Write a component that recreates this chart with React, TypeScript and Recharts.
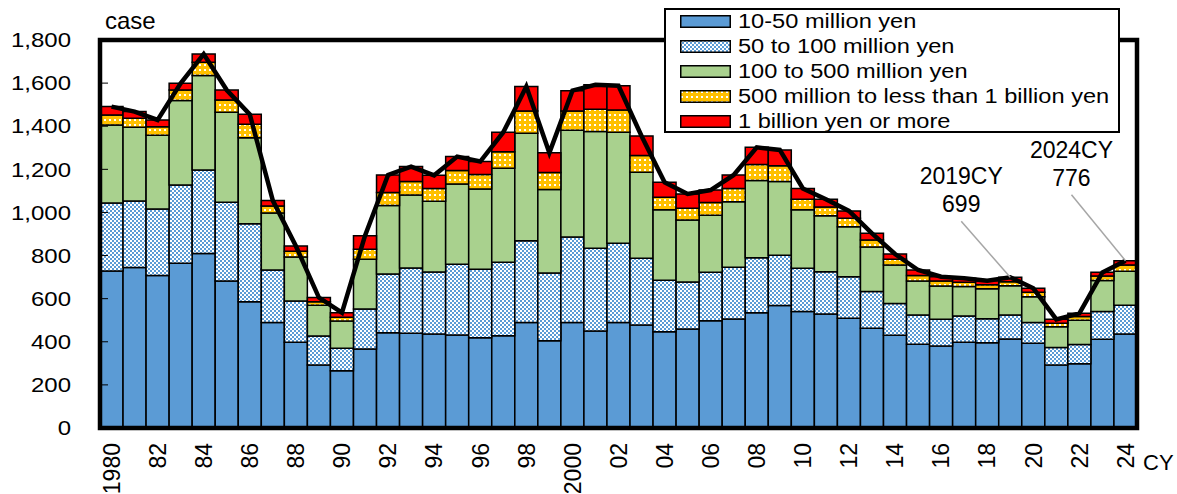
import {
  ComposedChart,
  Bar,
  Line,
  XAxis,
  YAxis,
  Legend,
  LabelList,
} from 'recharts';

const FONT = "'Liberation Sans', Arial, sans-serif";

const years = [
  1980, 1981, 1982, 1983, 1984, 1985, 1986, 1987, 1988, 1989,
  1990, 1991, 1992, 1993, 1994, 1995, 1996, 1997, 1998, 1999,
  2000, 2001, 2002, 2003, 2004, 2005, 2006, 2007, 2008, 2009,
  2010, 2011, 2012, 2013, 2014, 2015, 2016, 2017, 2018, 2019,
  2020, 2021, 2022, 2023, 2024,
];

const yearLabels = [
  '1980', '81', '82', '83', '84', '85', '86', '87', '88', '89',
  '90', '91', '92', '93', '94', '95', '96', '97', '98', '99',
  '2000', '01', '02', '03', '04', '05', '06', '07', '08', '09',
  '10', '11', '12', '13', '14', '15', '16', '17', '18', '19',
  '20', '21', '22', '23', '24',
];

// cases by capital size
const tier10to50m = [
  728, 745, 708, 764, 810, 682, 586, 490, 398, 292,
  266, 367, 442, 439, 436, 432, 419, 428, 489, 405,
  490, 450, 490, 478, 447, 459, 498, 506, 535, 568,
  540, 529, 509, 463, 430, 388, 380, 398, 396, 413,
  393, 292, 298, 412, 436,
];
const tier50to100m = [
  316, 308, 308, 363, 387, 365, 361, 243, 191, 135,
  104, 185, 273, 303, 288, 328, 317, 341, 380, 314,
  396, 384, 367, 309, 238, 218, 224, 240, 255, 233,
  201, 196, 193, 170, 148, 136, 124, 122, 111, 111,
  97, 81, 89, 128, 133,
];
const tier100to500m = [
  362, 342, 342, 392, 438, 418, 400, 265, 204, 142,
  126, 231, 317, 339, 328, 372, 373, 436, 498, 388,
  495, 541, 515, 399, 327, 288, 265, 304, 358, 342,
  271, 260, 232, 207, 178, 158, 155, 136, 139, 136,
  119, 97, 113, 144, 158,
];
const tier500mTo1b = [
  46, 42, 40, 49, 62, 57, 62, 32, 27, 17,
  18, 46, 61, 62, 59, 63, 67, 77, 104, 78,
  90, 104, 103, 78, 58, 54, 59, 61, 75, 74,
  49, 40, 39, 32, 27, 25, 23, 20, 19, 19,
  21, 16, 17, 21, 29,
];
const tierOver1b = [
  39, 31, 31, 31, 38, 46, 46, 25, 24, 19,
  21, 63, 81, 70, 61, 64, 60, 90, 113, 92,
  94, 113, 113, 91, 70, 67, 58, 63, 79, 73,
  50, 36, 34, 31, 24, 26, 20, 19, 18, 20,
  18, 18, 15, 17, 20,
];

const yTicks = [0, 200, 400, 600, 800, 1000, 1200, 1400, 1600, 1800];
const Y_MAX = 1800;
const notedYears = [2019, 2024];

const series = [
  { key: 't1', name: '10-50 million yen', fill: '#5B9BD5' },
  { key: 't2', name: '50 to 100 million yen', fill: 'url(#chkBlue)' },
  { key: 't3', name: '100 to 500 million yen', fill: '#A9D18E' },
  { key: 't4', name: '500 million to less than 1 billion yen', fill: 'url(#dotOrange)' },
  { key: 't5', name: '1 billion yen or more', fill: '#FF0000' },
];

const data = years.map((year, i) => {
  const t1 = tier10to50m[i];
  const t2 = tier50to100m[i];
  const t3 = tier100to500m[i];
  const t4 = tier500mTo1b[i];
  const t5 = tierOver1b[i];
  return { year, label: yearLabels[i], t1, t2, t3, t4, t5, total: t1 + t2 + t3 + t4 + t5 };
});

// chart size and plot margins
const W = 1169;
const H = 486;
const M = { top: 32, right: 40, bottom: 6, left: 32 };
const Y_AXIS_W = 60;
const X_AXIS_H = 60;
const FRAME = 4.5;

// leader line end offsets from the data point
const noteOffsets: Record<number, { dx: number; dy: number }> = {
  2019: { dx: -49, dy: -56 },
  2024: { dx: -54, dy: -66 },
};

const YTick = ({ x, y, payload }: any) => (
  <text
    transform={`translate(${x - 29},${y}) scale(1.2,1)`}
    textAnchor='end'
    dy='0.36em'
    fontSize={20}
    fontFamily={FONT}
    fill='#000'
  >
    {Number(payload.value).toLocaleString('en-US')}
  </text>
);

const XTick = ({ x, y, payload }: any) => (
  <text
    transform={`translate(${x},${y + 15}) rotate(-90)`}
    textAnchor='end'
    dy='0.36em'
    fontSize={23}
    fontFamily={FONT}
    fill='#000'
  >
    {payload.value}
  </text>
);

const CaseLabel = ({ viewBox }: any) => (
  <text x={viewBox.x + viewBox.width + 5} y={viewBox.y - 11} fontSize={24} fontFamily={FONT} fill='#000'>
    case
  </text>
);

const CyLabel = ({ viewBox }: any) => (
  <text x={viewBox.x + viewBox.width + 6} y={viewBox.y + 42} fontSize={22} fontFamily={FONT} fill='#000'>
    CY
  </text>
);

const renderNote = (props: any) => {
  const { x, y, value, index } = props;
  const year = years[index];
  if (!notedYears.includes(year)) return null;
  const off = noteOffsets[year];
  const ex = x + off.dx;
  const ey = y + off.dy;
  return (
    <g key={`note-${year}`}>
      <line x1={x} y1={y} x2={ex} y2={ey} stroke='#A6A6A6' strokeWidth={1.5} />
      <text x={ex} y={ey - 37} textAnchor='middle' fontSize={23} fontFamily={FONT} fill='#000'>
        {`${year}CY`}
      </text>
      <text x={ex} y={ey - 9} textAnchor='middle' fontSize={23} fontFamily={FONT} fill='#000'>
        {value}
      </text>
    </g>
  );
};

const renderLegend = () => (
  <div
    style={{
      width: 456,
      height: 125,
      boxSizing: 'border-box',
      border: '2px solid #000',
      background: '#fff',
      position: 'relative',
      fontFamily: FONT,
    }}
  >
    {series.map((s, i) => (
      <div key={s.key}>
        <svg
          width={51}
          height={13}
          style={{ position: 'absolute', left: 14, top: 11 + i * 25 - 6 }}
        >
          <rect x={0.75} y={0.75} width={49.5} height={11.5} fill={s.fill} stroke='#000' strokeWidth={1.5} />
        </svg>
        <span
          style={{
            position: 'absolute',
            left: 72,
            top: 11 + i * 25 - 12.5,
            lineHeight: '25px',
            fontSize: 19.5,
            whiteSpace: 'nowrap',
            transform: 'scaleX(1.21)',
            transformOrigin: 'left center',
            color: '#000',
          }}
        >
          {s.name}
        </span>
      </div>
    ))}
  </div>
);

export default function App() {
  const plotLeft = M.left + Y_AXIS_W;
  const plotRight = W - M.right;
  const plotTop = M.top;
  const plotBottom = H - M.bottom - X_AXIS_H;
  const plotH = plotBottom - plotTop;
  return (
    <div style={{ position: 'absolute', left: 8, top: 8, width: W, height: H, overflow: 'hidden', fontFamily: FONT }}>
      <ComposedChart width={W} height={H} data={data} margin={M} barCategoryGap={0}>
        <defs>
          <pattern id='chkBlue' width='4' height='4' patternUnits='userSpaceOnUse'>
            <rect width='4' height='4' fill='#fff' />
            <rect width='2' height='2' fill='#5B9BD5' />
            <rect x='2' y='2' width='2' height='2' fill='#5B9BD5' />
          </pattern>
          <pattern id='dotOrange' width='5' height='5' patternUnits='userSpaceOnUse'>
            <rect width='5' height='5' fill='#FFC000' />
            <rect x='1' y='1' width='2' height='2' fill='#fff' />
          </pattern>
        </defs>
        <XAxis
          dataKey='label'
          interval={1}
          tickLine={false}
          tickSize={0}
          tickMargin={0}
          height={X_AXIS_H}
          axisLine={false}
          tick={<XTick />}
          label={<CyLabel />}
        />
        <YAxis
          domain={[0, Y_MAX]}
          ticks={yTicks}
          width={Y_AXIS_W}
          tickLine={false}
          tickSize={0}
          tickMargin={0}
          axisLine={false}
          tick={<YTick />}
          label={<CaseLabel />}
        />
        {series.map((s) => (
          <Bar
            key={s.key}
            dataKey={s.key}
            name={s.name}
            stackId='a'
            fill={s.fill}
            stroke='#000'
            strokeWidth={1.5}
            isAnimationActive={false}
          />
        ))}
        <Line
          dataKey='total'
          type='linear'
          stroke='#000'
          strokeWidth={4.5}
          dot={false}
          legendType='none'
          isAnimationActive={false}
        >
          <LabelList dataKey='total' content={renderNote} />
        </Line>
        <Legend
          layout='horizontal'
          verticalAlign='middle'
          align='center'
          content={renderLegend}
          wrapperStyle={{ left: 656, top: 0, width: 456, height: 125, zIndex: 3 }}
        />
      </ComposedChart>
      {/* thick plot frame and inward tick marks drawn over the bars */}
      <svg
        width={W}
        height={H}
        style={{ position: 'absolute', left: 0, top: 0, pointerEvents: 'none', zIndex: 2 }}
      >
        {yTicks.map((v) => {
          const ty = plotBottom - (v / Y_MAX) * plotH;
          return <line key={v} x1={plotLeft} x2={plotLeft + 8} y1={ty} y2={ty} stroke='#000' strokeWidth={1} />;
        })}
        <rect
          x={plotLeft}
          y={plotTop}
          width={plotRight - plotLeft}
          height={plotH}
          fill='none'
          stroke='#000'
          strokeWidth={FRAME}
        />
      </svg>
    </div>
  );
}
